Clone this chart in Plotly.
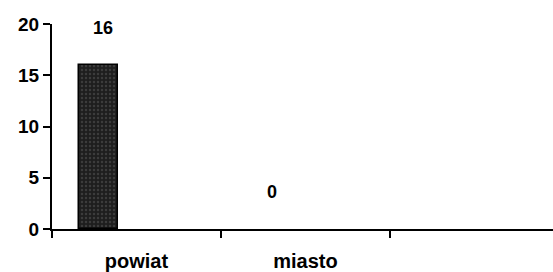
import plotly.graph_objects as go

categories = ["powiat", "miasto", " "]
bar_categories = ["powiat", "miasto"]
values = [16, 0]
y_ticks = [0, 5, 10, 15, 20]

FONT = "Liberation Sans, Arial"

fig = go.Figure()
fig.add_trace(go.Bar(
    x=bar_categories, y=values,
    width=0.23, offset=-0.34,
    marker=dict(color="#303030",
                line=dict(color="#000000", width=[1.5 if v > 0 else 0 for v in values]),
                pattern=dict(shape=".", fgcolor="#5a5a5a", bgcolor="#1e1e1e", size=4, solidity=0.3)),
    showlegend=False, hoverinfo="skip",
))

for c, v in zip(bar_categories, values):
    fig.add_annotation(x=c, y=v, text=str(v), showarrow=False,
                       xshift=-33, yshift=37, yanchor="middle",
                       font=dict(family=FONT, size=18, color="#000000", weight="bold"))

fig.update_layout(
    width=553, height=272,
    margin=dict(l=52, r=0, t=24, b=43),
    paper_bgcolor="white", plot_bgcolor="white",
    font=dict(family=FONT, size=18, color="#000000", weight="bold"),
    bargap=0,
)
fig.update_xaxes(
    type="category", categoryorder="array", categoryarray=categories,
    range=[-0.5, 2.465], tickson="boundaries",
    showline=True, linecolor="#000000", linewidth=2,
    ticks="outside", ticklen=7, tickwidth=2, tickcolor="#000000",
    ticklabelstandoff=13, showgrid=False, zeroline=False,
    tickfont=dict(size=20), automargin=False,
)
fig.update_yaxes(
    range=[0, 20], tickvals=y_ticks,
    showline=True, linecolor="#000000", linewidth=2,
    ticks="outside", ticklen=7, tickwidth=2, tickcolor="#000000",
    showgrid=False, zeroline=False, tickfont=dict(size=19), automargin=False,
)

fig.write_html("out.html", config={"displayModeBar": False},
               post_script="document.body.style.margin='0';document.body.style.overflow='hidden';")
